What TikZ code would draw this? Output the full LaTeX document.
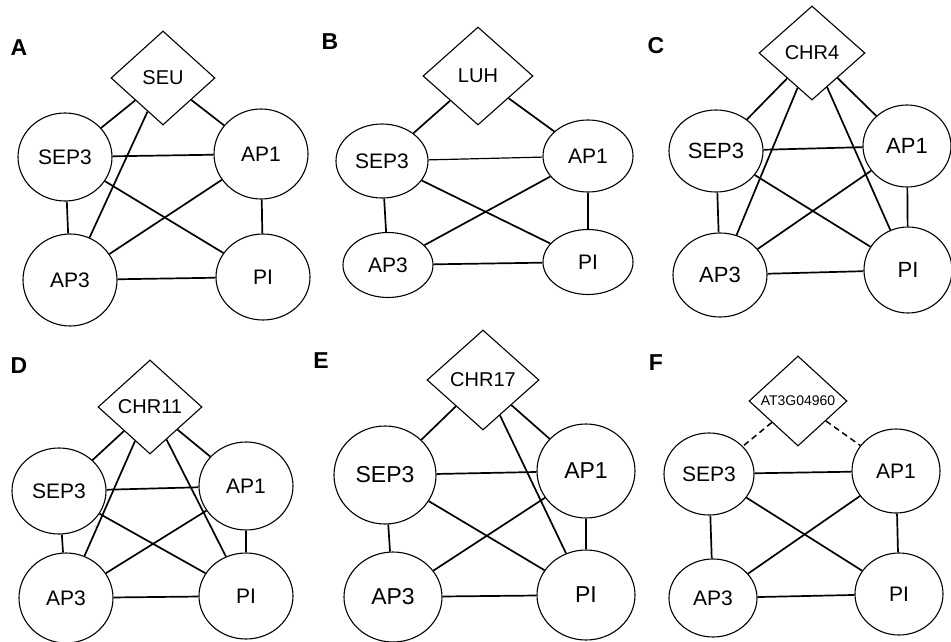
\documentclass[tikz,border=0pt]{standalone}
\usepackage{fontspec}
\setmainfont{Liberation Sans}
\usetikzlibrary{shapes.geometric}
\tikzset{
  gene/.style={draw, ellipse, line width=1.1pt, inner sep=0pt,
    font=\fontsize{21}{24}\selectfont},
  hub/.style={draw, diamond, line width=1.1pt, inner sep=0pt,
    font=\fontsize{20}{24}\selectfont},
  link/.style={line width=1.7pt},
  weak/.style={line width=1.5pt, dash pattern=on 6pt off 4pt},
  tag/.style={font=\fontsize{23}{26}\selectfont\bfseries},
  sz/.style 2 args={minimum width=#1pt, minimum height=#2pt},
}
\begin{document}
\begin{tikzpicture}[x=1pt,y=-1pt]
\useasboundingbox (0,0) rectangle (951,642);

% ---------- A: SEU ----------
\node[tag] (tA) at (19,48) {A};
\node[hub, sz={104}{94}] (aH) at (163,78) {SEU};
\node[gene, sz={94}{88}] (aS) at (65,157) {SEP3};
\node[gene, sz={94}{90}] (aA1) at (261,154) {AP1};
\node[gene, sz={94}{92}] (aA3) at (70,280) {AP3};
\node[gene, sz={94}{86}] (aP) at (263,277) {PI};
\draw[link] (aH) -- (aS);
\draw[link] (aH) -- (aA1);
\draw[link] (aH) -- (aA3);
\draw[link] (aS) -- (aA1);
\draw[link] (aS) -- (aA3);
\draw[link] (aS) -- (aP);
\draw[link] (aA1) -- (aA3);
\draw[link] (aA1) -- (aP);
\draw[link] (aA3) -- (aP);

% ---------- B: LUH ----------
\node[tag] (tB) at (330,42) {B};
\node[hub, sz={110}{98}] (bH) at (478,76) {LUH};
\node[gene, sz={92}{74}] (bS) at (382,161) {SEP3};
\node[gene, sz={90}{72}] (bA1) at (588,156) {AP1};
\node[gene, sz={90}{65}] (bA3) at (388,265) {AP3};
\node[gene, sz={90}{65}] (bP) at (588,262) {PI};
\draw[link] (bH) -- (bS);
\draw[link] (bH) -- (bA1);
\draw[link, line width=1.2pt] (bS) -- (bA1);
\draw[link] (bS) -- (bA3);
\draw[link] (bS) -- (bP);
\draw[link] (bA1) -- (bA3);
\draw[link] (bA1) -- (bP);
\draw[link] (bA3) -- (bP);

% ---------- C: CHR4 ----------
\node[tag] (tC) at (656,46) {C};
\node[hub, sz={106}{94}] (cH) at (812,53) {CHR4};
\node[gene, sz={94}{82}, font=\fontsize{22}{26}\selectfont] (cS) at (716,151) {SEP3};
\node[gene, sz={88}{82}, font=\fontsize{22}{26}\selectfont] (cA1) at (907,146) {AP1};
\node[gene, sz={94}{84}, font=\fontsize{22}{26}\selectfont] (cA3) at (720,275) {AP3};
\node[gene, sz={88}{86}, font=\fontsize{22}{26}\selectfont] (cP) at (908,270) {PI};
\draw[link] (cH) -- (cS);
\draw[link] (cH) -- (cA1);
\draw[link] (cH) -- (cA3);
\draw[link] (cH) -- (cP);
\draw[link] (cS) -- (cA1);
\draw[link] (cS) -- (cA3);
\draw[link] (cS) -- (cP);
\draw[link] (cA1) -- (cA3);
\draw[link] (cA1) -- (cP);
\draw[link] (cA3) -- (cP);

% ---------- D: CHR11 ----------
\node[tag] (tD) at (19,366) {D};
\node[hub, sz={104}{94}] (dH) at (150,407) {CHR11};
\node[gene, sz={94}{86}] (dS) at (59,491) {SEP3};
\node[gene, sz={94}{88}] (dA1) at (246,486) {AP1};
\node[gene, sz={94}{90}] (dA3) at (66,598) {AP3};
\node[gene, sz={94}{86}] (dP) at (246,596) {PI};
\draw[link] (dH) -- (dS);
\draw[link] (dH) -- (dA1);
\draw[link] (dH) -- (dA3);
\draw[link] (dH) -- (dP);
\draw[link] (dS) -- (dA1);
\draw[link] (dS) -- (dA3);
\draw[link] (dS) -- (dP);
\draw[link] (dA1) -- (dA3);
\draw[link] (dA1) -- (dP);
\draw[link] (dA3) -- (dP);

% ---------- E: CHR17 ----------
\node[tag] (tE) at (321,361) {E};
\node[hub, sz={112}{100}] (eH) at (483,380) {CHR17};
\node[gene, sz={102}{98}, font=\fontsize{23}{26}\selectfont] (eS) at (385,475) {SEP3};
\node[gene, sz={98}{94}, font=\fontsize{23}{26}\selectfont] (eA1) at (586,471) {AP1};
\node[gene, sz={98}{90}, font=\fontsize{23}{26}\selectfont] (eA3) at (393,597) {AP3};
\node[gene, sz={98}{90}, font=\fontsize{23}{26}\selectfont] (eP) at (586,595) {PI};
\draw[link] (eH) -- (eS);
\draw[link] (eH) -- (eA1);
\draw[link] (eH) -- (eP);
\draw[link] (eS) -- (eA1);
\draw[link] (eS) -- (eA3);
\draw[link] (eS) -- (eP);
\draw[link] (eA1) -- (eA3);
\draw[link] (eA1) -- (eP);
\draw[link] (eA3) -- (eP);

% ---------- F: AT3G04960 ----------
\node[tag] (tF) at (656,363) {F};
\node[hub, sz={98}{90}, font=\fontsize{14}{16}\selectfont] (fH) at (798,401) {AT3G04960};
\node[gene, sz={90}{82}] (fS) at (709,474) {SEP3};
\node[gene, sz={88}{84}] (fA1) at (896,471) {AP1};
\node[gene, sz={88}{78}] (fA3) at (713,598) {AP3};
\node[gene, sz={88}{82}] (fP) at (899,594) {PI};
\draw[weak] (fH) -- (fS);
\draw[weak] (fH) -- (fA1);
\draw[link] (fS) -- (fA1);
\draw[link] (fS) -- (fA3);
\draw[link] (fS) -- (fP);
\draw[link] (fA1) -- (fA3);
\draw[link] (fA1) -- (fP);
\draw[link] (fA3) -- (fP);

\end{tikzpicture}
\end{document}
